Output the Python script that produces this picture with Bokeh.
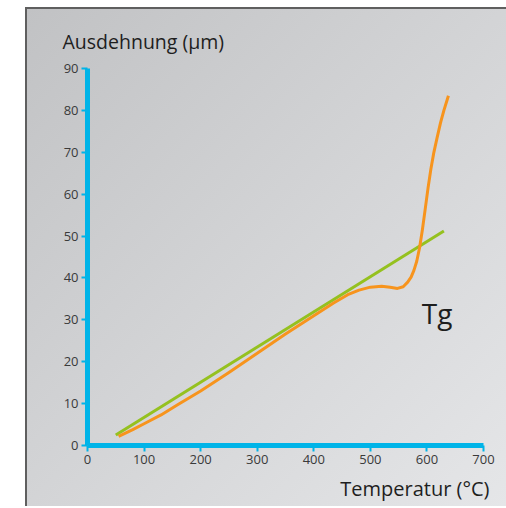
from bokeh.plotting import figure
from bokeh.models import Title, Label, Range1d, FixedTicker
from bokeh.embed import file_html
from bokeh.resources import INLINE

# Data
green_x = [50, 630]
green_y = [2.5, 51.2]

orange_x = [55, 80, 100, 130, 160, 200, 250, 300, 350, 400, 435, 460, 480, 500, 520,
            535, 548, 558, 566, 572, 577, 582, 587, 592, 597, 602, 607, 612, 618, 624, 630, 638]
orange_y = [2.2, 3.8, 5.2, 7.3, 9.8, 13.0, 17.4, 22.0, 26.6, 31.0, 34.0, 36.0, 37.1, 37.8, 38.0,
            37.8, 37.5, 37.9, 39.0, 40.2, 41.8, 44.0, 47.2, 51.5, 56.5, 61.5, 66.0, 69.8, 73.5, 77.0, 80.0, 83.5]

x_ticks = [0, 100, 200, 300, 400, 500, 600, 700]
y_ticks = [0, 10, 20, 30, 40, 50, 60, 70, 80, 90]

y_title = "Ausdehnung (µm)"
x_title = "Temperatur (°C)"
annot = "Tg"
annot_x = 591
annot_y = 31.6

FONT = "Open Sans"
AXIS_COLOR = "#00b4e8"

p = figure(width=481, height=499, output_backend="svg", toolbar_location=None,
           x_range=Range1d(0, 700), y_range=Range1d(0, 90),
           min_border_left=60, min_border_right=25, min_border_top=59, min_border_bottom=61,
           margin=(7, 0, 0, 25),
           styles={"background": "linear-gradient(to bottom right, #c1c2c4, #e5e6e8)",
                   "border-left": "2px solid #5f5f5f", "border-top": "2px solid #5f5f5f",
                   "box-sizing": "border-box"})
p.border_fill_color = None
p.background_fill_color = None
p.outline_line_color = None
p.grid.visible = False

for ax in (p.xaxis[0], p.yaxis[0]):
    ax.axis_line_color = AXIS_COLOR
    ax.axis_line_width = 5
    ax.major_tick_line_color = AXIS_COLOR
    ax.major_tick_line_width = 2
    ax.major_tick_out = 6
    ax.major_tick_in = 0
    ax.minor_tick_line_color = None
    ax.major_label_text_font = FONT
    ax.major_label_text_font_size = "13px"
    ax.major_label_text_color = "#3a3a3a"
    ax.major_label_standoff = 3

p.xaxis[0].ticker = FixedTicker(ticks=x_ticks)
p.yaxis[0].ticker = FixedTicker(ticks=y_ticks)

p.line(green_x, green_y, line_color="#95c11f", line_width=3)
p.line(orange_x, orange_y, line_color="#f7941d", line_width=3, line_join="round")

p.add_layout(Label(x=annot_x, y=annot_y, text=annot, text_font=FONT, text_font_size="28px",
                   text_color="#1e1e1e", text_baseline="alphabetic"))

t_top = Title(text=y_title, align="left", offset=-25, text_font=FONT, text_font_size="19.5px",
              text_font_style="normal", text_color="#1e1e1e", standoff=28)
p.add_layout(t_top, "above")
t_bot = Title(text=x_title, align="right", offset=-6, text_font=FONT, text_font_size="20px",
              text_font_style="normal", text_color="#1e1e1e", standoff=13)
p.add_layout(t_bot, "below")

open("out.html", "w").write(file_html(p, INLINE))
